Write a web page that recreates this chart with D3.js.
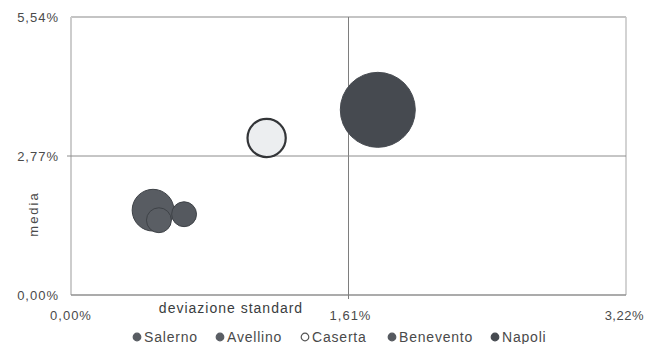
<!DOCTYPE html>
<html><head><meta charset="utf-8">
<script src="https://cdn.jsdelivr.net/npm/d3@7"></script>
<style>html,body{margin:0;padding:0;background:#fff;}svg{display:block;}</style>
</head><body><svg id="c" width="646" height="344"></svg>
<script>
const provinces = ["Salerno","Avellino","Caserta","Benevento","Napoli"];
const devStd = [0.476, 0.51, 1.135, 0.656, 1.78];   // x, %
const media = [1.69, 1.49, 3.13, 1.61, 3.69];        // y, %
const sizes = [31, 11, 26, 11, 100];
const xTicks = [0, 1.61, 3.22];
const yTicks = [0, 2.77, 5.54];
const xTickLabels = ["0,00%","1,61%","3,22%"];
const yTickLabels = ["0,00%","2,77%","5,54%"];
const fills = ["#585c62","#5a5e64","#eceef0","#55595f","#464a50"];
const strokes = ["#3e4247","#3e4247","#333538","#3e4247","#464a50"];

const svg = d3.select("#c");
const L=71, R=626, T=17, B=295;
const x = d3.scaleLinear().domain([0,3.22]).range([L,R]);
const y = d3.scaleLinear().domain([0,5.54]).range([B,T]);
const r = d3.scaleSqrt().domain([0,100]).range([0,37.5]);
const font = "Liberation Sans, Arial, sans-serif";

// frame
svg.append("line").attr("x1",L).attr("x2",R).attr("y1",T).attr("y2",T).attr("stroke","#8a8a8a").attr("stroke-width",1.2);
svg.append("line").attr("x1",R).attr("x2",R).attr("y1",T).attr("y2",B).attr("stroke","#c4c4c4").attr("stroke-width",1.5);
svg.append("line").attr("x1",L).attr("x2",L).attr("y1",T).attr("y2",B).attr("stroke","#cdcdcd").attr("stroke-width",2);
svg.append("line").attr("x1",L).attr("x2",R).attr("y1",B).attr("y2",B).attr("stroke","#8f8f8f").attr("stroke-width",1.3);
// middle gridlines
svg.append("line").attr("x1",x(1.61)).attr("x2",x(1.61)).attr("y1",T).attr("y2",B+4).attr("stroke","#7e7e7e").attr("stroke-width",1);
svg.append("line").attr("x1",L-4).attr("x2",R).attr("y1",y(2.77)).attr("y2",y(2.77)).attr("stroke","#8c8c8c").attr("stroke-width",1);

// y tick labels
svg.selectAll("text.yt").data(yTicks).enter().append("text").attr("class","yt")
  .attr("x",59).attr("y",d=>y(d)+4.5).attr("text-anchor","end")
  .attr("font-family",font).attr("font-size",13).attr("letter-spacing",1).attr("fill","#4a4a4a")
  .text((d,i)=>yTickLabels[i]);
// x tick labels
const xOff=[0,2,0];
const xAnchor=["middle","middle","end"];
svg.selectAll("text.xt").data(xTicks).enter().append("text").attr("class","xt")
  .attr("x",(d,i)=>i===2?644:x(d)+xOff[i]).attr("y",320).attr("text-anchor",(d,i)=>xAnchor[i])
  .attr("font-family",font).attr("font-size",13).attr("letter-spacing",(d,i)=>i===2?0.5:1).attr("fill","#4a4a4a")
  .text((d,i)=>xTickLabels[i]);

// axis titles
svg.append("text").attr("x",231).attr("y",312.5).attr("text-anchor","middle")
  .attr("font-family",font).attr("font-size",14).attr("letter-spacing",1).attr("fill","#3a3d40").text("deviazione standard");
svg.append("text").attr("transform","translate(38,214) rotate(-90)").attr("text-anchor","middle")
  .attr("font-family",font).attr("font-size",13).attr("letter-spacing",2).attr("fill","#4a4a4a").text("media");

// bubbles (draw larger first)
const idx = d3.range(provinces.length).sort((a,b)=>sizes[b]-sizes[a]);
svg.selectAll("circle.b").data(idx).enter().append("circle").attr("class","b")
  .attr("cx",i=>x(devStd[i])).attr("cy",i=>y(media[i])).attr("r",i=>r(sizes[i]))
  .attr("fill",i=>fills[i]).attr("stroke",i=>strokes[i]).attr("stroke-width",i=>provinces[i]==="Caserta"?2.2:1);

// legend
const lx=[137,220,305,392,495];
const lg = svg.selectAll("g.lg").data(provinces).enter().append("g").attr("class","lg")
  .attr("transform",(d,i)=>`translate(${lx[i]},337)`);
lg.append("circle").attr("cx",0).attr("cy",0).attr("r",3.8)
  .attr("fill",(d,i)=>d==="Caserta"?"#fff":fills[i]).attr("stroke",(d,i)=>d==="Caserta"?"#555":fills[i]).attr("stroke-width",1.2);
lg.append("text").attr("x",7).attr("y",5).attr("font-family",font).attr("font-size",14).attr("letter-spacing",0.8).attr("fill","#4a4a4a").text(d=>d);
</script></body></html>
